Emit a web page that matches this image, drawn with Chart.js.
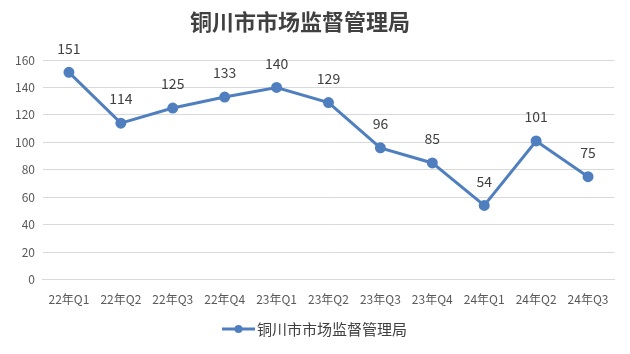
<!DOCTYPE html>
<html>
<head>
<meta charset="utf-8">
<script src="https://cdn.jsdelivr.net/npm/chart.js@4/dist/chart.umd.min.js"></script>
<style>
  html, body { margin: 0; padding: 0; background: #fff; }
  #wrap { width: 630px; height: 354px; }
</style>
</head>
<body>
<div id="wrap"><canvas id="grafico"></canvas></div>
<script>
// datos
const categorias = ['22年Q1', '22年Q2', '22年Q3', '22年Q4', '23年Q1', '23年Q2', '23年Q3', '23年Q4', '24年Q1', '24年Q2', '24年Q3'];
const valores = [151, 114, 125, 133, 140, 129, 96, 85, 54, 101, 75];
const ticksY = [0, 20, 40, 60, 80, 100, 120, 140, 160];
const nombreSerie = '铜川市市场监督管理局';

const azul = '#4f7fbf';
const fuente = "'Noto Sans CJK SC', 'Noto Sans', sans-serif";

// título arriba, centrado en x=300 como en el original
const titulo = {
    id: 'titulo',
    afterDraw(chart) {
        const c = chart.ctx;
        c.save();
        c.font = 'bold 22px ' + fuente;
        c.fillStyle = '#404040';
        c.textAlign = 'center';
        c.textBaseline = 'middle';
        c.fillText(nombreSerie, 300, 22);
        c.restore();
    }
};

// etiquetas de valor encima de cada punto
const etiquetasValor = {
    id: 'etiquetasValor',
    afterDatasetsDraw(chart) {
        const c = chart.ctx;
        const meta = chart.getDatasetMeta(0);
        c.save();
        c.font = '14px ' + fuente;
        c.fillStyle = '#404040';
        c.textAlign = 'center';
        c.textBaseline = 'middle';
        meta.data.forEach((p, i) => {
            c.fillText(String(valores[i]), p.x, p.y - 24);
        });
        c.restore();
    }
};

// leyenda abajo: línea con punto + texto
const leyenda = {
    id: 'leyenda',
    afterDraw(chart) {
        const c = chart.ctx;
        c.save();
        c.font = '15px ' + fuente;
        const x0 = 222;
        const y = 329;
        c.strokeStyle = azul;
        c.lineWidth = 3;
        c.beginPath();
        c.moveTo(x0, y);
        c.lineTo(x0 + 33, y);
        c.stroke();
        c.fillStyle = azul;
        c.beginPath();
        c.arc(x0 + 16.5, y, 4, 0, Math.PI * 2);
        c.fill();
        c.fillStyle = '#404040';
        c.textAlign = 'left';
        c.textBaseline = 'middle';
        c.fillText(nombreSerie, x0 + 35, y);
        c.restore();
    }
};

new Chart(document.getElementById('grafico'), {
    type: 'line',
    data: {
        labels: categorias,
        datasets: [{
            label: nombreSerie,
            data: valores,
            borderColor: azul,
            backgroundColor: azul,
            borderWidth: 3,
            pointRadius: 4,
            pointHoverRadius: 4,
            pointBackgroundColor: azul,
            pointBorderColor: azul,
            tension: 0
        }]
    },
    options: {
        responsive: true,
        maintainAspectRatio: false,
        animation: false,
        layout: { padding: { left: 7, right: 16, top: 60, bottom: 42 } },
        scales: {
            x: {
                offset: true,
                grid: { display: false },
                border: { display: true, color: '#d9d9d9' },
                ticks: { color: '#595959', font: { size: 12, family: fuente }, maxRotation: 0, autoSkip: false, padding: 5 }
            },
            y: {
                min: 0,
                max: 160,
                afterBuildTicks: (eje) => { eje.ticks = ticksY.map(v => ({ value: v })); },
                grid: { color: '#d9d9d9', drawTicks: false },
                border: { display: false },
                ticks: { color: '#595959', font: { size: 12, family: fuente }, padding: 8 }
            }
        },
        plugins: {
            legend: { display: false },
            tooltip: { enabled: false },
            title: { display: false }
        }
    },
    plugins: [titulo, etiquetasValor, leyenda]
});
</script>
</body>
</html>
